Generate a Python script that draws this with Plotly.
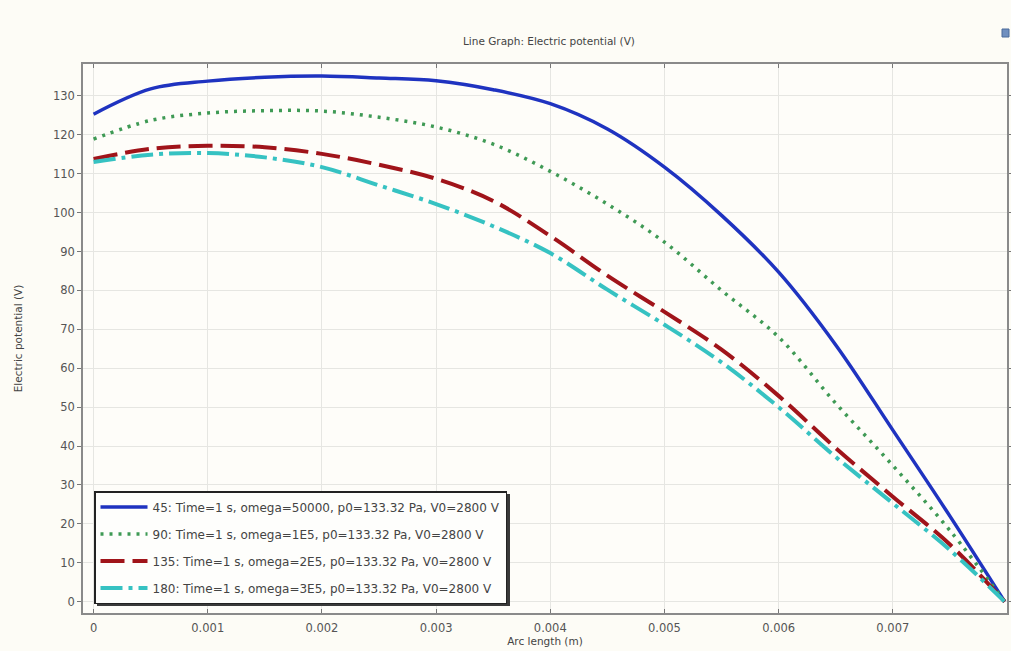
import plotly.graph_objects as go

# Arc length positions (m) shared by all four line series
arc_length = [0, 0.0005, 0.001, 0.0015, 0.002, 0.0025, 0.003, 0.0035, 0.004,
              0.0045, 0.005, 0.0055, 0.006, 0.0065, 0.007, 0.0075, 0.00798]

# Electric potential (V) along the arc for each angle / frequency case
v_45 = [125.3, 131.8, 133.8, 134.8, 135.1, 134.6, 133.9, 131.6, 128.0,
        121.5, 111.7, 99.3, 84.7, 66.0, 44.1, 22.0, 0.0]
v_90 = [118.9, 123.7, 125.6, 126.2, 126.1, 124.5, 122.0, 117.6, 110.6,
        102.2, 92.4, 80.0, 68.0, 51.0, 35.0, 18.3, 0.0]
v_135 = [113.8, 116.4, 117.2, 116.8, 115.1, 112.3, 108.7, 103.0, 94.0,
         83.8, 74.5, 64.8, 52.9, 39.5, 27.0, 14.7, 0.0]
v_180 = [113.0, 114.9, 115.3, 114.2, 111.7, 107.0, 102.2, 96.5, 89.6,
         80.2, 71.2, 61.5, 50.0, 37.2, 25.3, 13.3, 0.0]

series_names = [
    "45: Time=1 s, omega=50000, p0=133.32 Pa, V0=2800 V",
    "90: Time=1 s, omega=1E5, p0=133.32 Pa, V0=2800 V",
    "135: Time=1 s, omega=2E5, p0=133.32 Pa, V0=2800 V",
    "180: Time=1 s, omega=3E5, p0=133.32 Pa, V0=2800 V",
]

x_ticks = [0, 0.001, 0.002, 0.003, 0.004, 0.005, 0.006, 0.007]
x_tick_text = ["0", "0.001", "0.002", "0.003", "0.004", "0.005", "0.006", "0.007"]
y_ticks = list(range(0, 140, 10))

styles = [
    dict(color="#1f33c0", width=3.5, dash="solid"),
    dict(color="#3f9a55", width=3.5, dash="3px,6px"),
    dict(color="#a0141a", width=4, dash="24px,8px"),
    dict(color="#36c2c2", width=4, dash="22px,6px,4px,6px"),
]

fig = go.Figure()
for i, (name, vals) in enumerate(zip(series_names, [v_45, v_90, v_135, v_180])):
    fig.add_trace(go.Scatter(
        x=arc_length, y=vals, mode="lines", name=name,
        line=dict(shape="spline", smoothing=1.0, **styles[i]),
        legendgroup=f"g{i}",
    ))

font_family = "DejaVu Sans"
axis_common = dict(
    showline=True, linecolor="#8a8a8a", linewidth=1.5, mirror="ticks",
    showgrid=True, gridcolor="#e6e6e2", gridwidth=1,
    zeroline=False, tickcolor="#777777", ticklen=4,
    tickfont=dict(family=font_family, size=11.5, color="#555555"),
)

# helpers converting pixel positions to plot-area fractions
plot_l, plot_r, plot_t, plot_b = 83, 1007, 64, 613
plot_w, plot_h = plot_r - plot_l, plot_b - plot_t
def px_x(p):
    return (p - plot_l) / plot_w
def px_y(p):
    return (plot_b - p) / plot_h

# drop shadow behind the legend box
fig.add_shape(type="rect", xref="paper", yref="paper",
              x0=px_x(97), x1=px_x(510), y0=px_y(606), y1=px_y(494),
              fillcolor="#3a3a3a", line=dict(width=0), layer="above")

# small window-control icon in the upper right corner
fig.add_shape(type="rect", xref="paper", yref="paper",
              x0=px_x(1002), x1=px_x(1009), y0=px_y(37), y1=px_y(29),
              fillcolor="#6f8fbf", line=dict(color="#4a6a9a", width=1), layer="above")

fig.update_layout(
    width=1011, height=651, autosize=False,
    margin=dict(l=plot_l, r=1011 - plot_r, t=plot_t, b=651 - plot_b, pad=0, autoexpand=False),
    paper_bgcolor="#fdfcf6",
    plot_bgcolor="#fefdf9",
    showlegend=True,
    title=dict(text="Line Graph: Electric potential (V)", x=0.543, xanchor="center",
               y=1 - 41.5 / 651, yanchor="middle",
               font=dict(family=font_family, size=10.5, color="#444444")),
    xaxis=dict(range=[-0.0000927, 0.008], tickvals=x_ticks, ticktext=x_tick_text,
               ticks="inside", ticklabelstandoff=3, automargin=False,
               title=dict(text="Arc length (m)", standoff=4,
                          font=dict(family=font_family, size=10.5, color="#444444")),
               **axis_common),
    yaxis=dict(range=[-2.9, 138.2], tickvals=y_ticks, ticks="outside", automargin=False,
               title=dict(text="Electric potential (V)", standoff=28,
                          font=dict(family=font_family, size=10.5, color="#444444")),
               **axis_common),
    legend=dict(x=px_x(94), y=px_y(491), xanchor="left", yanchor="top",
                bgcolor="#fefefc", bordercolor="#222222", borderwidth=1.5,
                tracegroupgap=8, traceorder="grouped", itemwidth=47,
                font=dict(family=font_family, size=12, color="#444444")),
)

fig.write_html("out.html")
